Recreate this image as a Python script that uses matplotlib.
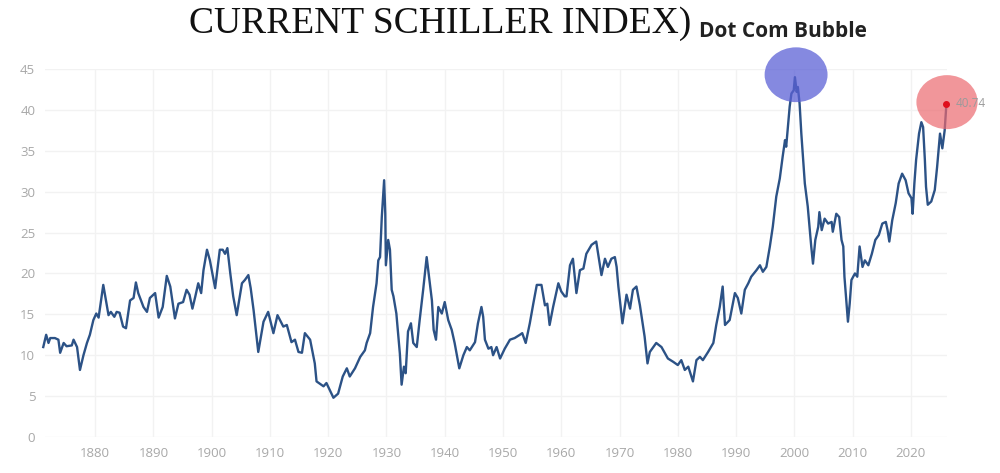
import matplotlib
matplotlib.use('Agg')
import matplotlib.pyplot as plt
from matplotlib.patches import Ellipse

# Shiller CAPE readings (year, value)
years = [1871.1, 1871.6, 1872.0, 1872.3, 1873.1, 1873.7, 1874.0, 1874.6, 1875.1, 1876.0,
         1876.3, 1876.9, 1877.4, 1878.0, 1878.6, 1879.1, 1879.7, 1880.2, 1880.6, 1881.4,
         1882.3, 1882.7, 1883.3, 1883.7, 1884.2, 1884.8, 1885.3, 1886.0, 1886.6, 1887.0,
         1887.4, 1888.3, 1888.9, 1889.4, 1890.3, 1890.9, 1891.6, 1892.3, 1892.9, 1893.7,
         1894.3, 1895.1, 1895.7, 1896.2, 1896.7, 1897.2, 1897.7, 1898.2, 1898.6, 1899.2,
         1899.7, 1900.6, 1901.4, 1901.9, 1902.3, 1902.7, 1903.2, 1903.7, 1904.3, 1905.2,
         1905.7, 1906.3, 1906.7, 1907.2, 1908.0, 1908.9, 1909.7, 1910.6, 1911.3, 1912.3,
         1912.9, 1913.7, 1914.3, 1914.9, 1915.5, 1916.0, 1916.9, 1917.7, 1918.0, 1919.2,
         1919.7, 1920.9, 1921.7, 1922.5, 1923.2, 1923.7, 1924.6, 1925.5, 1926.3, 1926.6,
         1927.2, 1927.7, 1928.3, 1928.6, 1928.9, 1929.2, 1929.6, 1929.8, 1929.9, 1930.3,
         1930.6, 1930.9, 1931.2, 1931.7, 1932.3, 1932.6, 1933.0, 1933.3, 1933.7, 1934.2,
         1934.6, 1935.2, 1935.7, 1936.3, 1936.9, 1937.3, 1937.8, 1938.1, 1938.5, 1938.9,
         1939.5, 1940.0, 1940.6, 1941.2, 1941.7, 1942.5, 1943.2, 1943.8, 1944.3, 1945.2,
         1945.7, 1946.3, 1946.6, 1946.9, 1947.5, 1948.0, 1948.3, 1948.9, 1949.5, 1950.3,
         1951.2, 1952.0, 1952.9, 1953.3, 1953.9, 1954.6, 1955.2, 1955.8, 1956.6, 1957.2,
         1957.6, 1958.0, 1958.6, 1959.5, 1960.0, 1960.6, 1960.9, 1961.5, 1962.0, 1962.6,
         1963.2, 1963.8, 1964.3, 1965.2, 1966.0, 1966.6, 1966.9, 1967.5, 1968.0, 1968.6,
         1969.2, 1969.5, 1969.8, 1970.5, 1971.2, 1971.8, 1972.3, 1972.9, 1973.5, 1974.3,
         1974.8, 1975.2, 1976.3, 1977.2, 1978.3, 1979.2, 1980.0, 1980.6, 1981.2, 1981.8,
         1982.6, 1983.2, 1983.8, 1984.3, 1985.2, 1986.1, 1986.6, 1987.2, 1987.7, 1988.1,
         1988.9, 1989.8, 1990.3, 1990.9, 1991.5, 1992.1, 1992.6, 1993.5, 1994.1, 1994.6,
         1995.2, 1995.8, 1996.3, 1996.9, 1997.5, 1998.0, 1998.4, 1998.6, 1998.9, 1999.2,
         1999.5, 1999.9, 2000.1, 2000.4, 2000.6, 2000.9, 2001.2, 2001.8, 2002.3, 2002.6,
         2002.9, 2003.2, 2003.6, 2004.1, 2004.3, 2004.7, 2005.2, 2005.8, 2006.4, 2006.6,
         2007.2, 2007.7, 2008.1, 2008.4, 2008.6, 2009.2, 2009.5, 2009.8, 2010.4, 2010.8,
         2011.2, 2011.7, 2012.1, 2012.7, 2013.3, 2013.9, 2014.5, 2015.1, 2015.7, 2016.0,
         2016.3, 2016.8, 2017.4, 2017.9, 2018.5, 2019.1, 2019.6, 2020.1, 2020.3, 2020.6,
         2020.9, 2021.4, 2021.8, 2022.1, 2022.4, 2022.6, 2022.9, 2023.5, 2024.1, 2024.5,
         2025.0, 2025.4, 2025.8, 2026.1]
cape = [11.0, 12.5, 11.5, 12.1, 12.1, 11.9, 10.3, 11.5, 11.1, 11.2,
        11.9, 11.0, 8.2, 10.0, 11.5, 12.5, 14.3, 15.1, 14.6, 18.6,
        14.9, 15.3, 14.7, 15.3, 15.2, 13.5, 13.3, 16.7, 17.0, 18.9,
        17.6, 15.9, 15.3, 17.0, 17.6, 14.6, 15.9, 19.7, 18.4, 14.5,
        16.3, 16.5, 18.0, 17.4, 15.7, 17.2, 18.8, 17.6, 20.4, 22.9,
        21.6, 18.2, 22.9, 22.9, 22.4, 23.1, 20.0, 17.2, 14.9, 18.8,
        19.2, 19.8, 18.2, 15.5, 10.4, 14.1, 15.3, 12.7, 14.9, 13.5,
        13.7, 11.6, 11.9, 10.4, 10.3, 12.7, 11.9, 9.0, 6.8, 6.2,
        6.6, 4.8, 5.3, 7.4, 8.4, 7.4, 8.4, 9.8, 10.6, 11.5,
        12.7, 15.9, 18.8, 21.6, 22.0, 26.9, 31.4, 27.3, 21.0, 24.1,
        22.9, 18.0, 17.2, 15.1, 10.2, 6.4, 8.6, 7.8, 12.9, 13.9,
        11.5, 11.0, 14.3, 18.0, 22.0, 19.6, 16.7, 13.1, 11.9, 15.9,
        15.1, 16.5, 14.3, 13.1, 11.5, 8.4, 10.0, 11.0, 10.6, 11.6,
        13.9, 15.9, 14.7, 11.9, 10.8, 11.0, 10.0, 11.0, 9.6, 10.8,
        11.9, 12.1, 12.5, 12.7, 11.5, 13.9, 16.3, 18.6, 18.6, 16.1,
        16.3, 13.7, 15.9, 18.8, 17.8, 17.2, 17.2, 21.0, 21.8, 17.6,
        20.4, 20.6, 22.4, 23.5, 23.9, 21.2, 19.8, 21.8, 20.8, 21.8,
        22.0, 20.8, 18.4, 13.9, 17.4, 15.7, 18.0, 18.4, 16.1, 12.3,
        9.0, 10.4, 11.5, 11.0, 9.6, 9.2, 8.8, 9.4, 8.2, 8.6,
        6.8, 9.4, 9.8, 9.4, 10.4, 11.5, 13.7, 15.9, 18.4, 13.7,
        14.3, 17.6, 17.0, 15.1, 18.0, 18.8, 19.6, 20.4, 21.0, 20.2,
        20.8, 23.3, 25.7, 29.4, 31.6, 34.3, 36.3, 35.5, 37.9, 40.4,
        42.0, 42.4, 44.0, 42.2, 42.8, 40.8, 37.1, 31.0, 28.2, 25.7,
        23.3, 21.2, 24.1, 25.7, 27.5, 25.3, 26.7, 26.1, 26.3, 25.1,
        27.3, 26.9, 24.1, 23.3, 19.6, 14.1, 16.3, 19.2, 20.0, 19.6,
        23.3, 20.8, 21.6, 21.0, 22.4, 24.1, 24.7, 26.1, 26.3, 25.3,
        23.9, 26.5, 28.6, 31.0, 32.2, 31.4, 29.8, 29.2, 27.3, 31.0,
        33.9, 37.1, 38.5, 37.9, 33.9, 30.6, 28.4, 28.8, 30.2, 33.0,
        37.1, 35.3, 37.5, 40.74]

x_ticks = [1880, 1890, 1900, 1910, 1920, 1930, 1940, 1950, 1960, 1970, 1980, 1990, 2000, 2010, 2020]
y_ticks = [0, 5, 10, 15, 20, 25, 30, 35, 40, 45]

bubble_center = (2000.3, 44.3)
current_center = (2026.2, 40.95)

fig = plt.figure(figsize=(10, 4.73), dpi=100)
ax = fig.add_axes([0.045, 0.0761, 0.902, 0.778])

ax.plot(years, cape, color='#2c5286', linewidth=1.7, clip_on=False, zorder=3)

ax.set_xlim(1871.4, 2026.2)
ax.set_ylim(0, 45)
ax.set_xticks(x_ticks)
ax.set_yticks(y_ticks)
ax.grid(True, color='#f2f2f2', linewidth=1.0)
ax.set_axisbelow(True)
for s in ax.spines.values():
    s.set_visible(False)
ax.tick_params(length=0, labelsize=9.5, colors='#a8a8a8', pad=7)
for lbl in ax.get_xticklabels() + ax.get_yticklabels():
    lbl.set_family('Open Sans')

# highlight circles
ax.add_patch(Ellipse(bubble_center, 10.8, 6.7, color='#5c61d6', alpha=0.75,
                     clip_on=False, zorder=4, linewidth=0))
ax.add_patch(Ellipse(current_center, 10.5, 6.6, color='#ec6a70', alpha=0.7,
                     clip_on=False, zorder=4, linewidth=0))
ax.plot([years[-1]], [cape[-1]], 'o', color='#e0101e', markersize=4, clip_on=False, zorder=5)
ax.text(years[-1] + 1.6, cape[-1], '%.2f' % cape[-1], fontsize=8.5, color='#9a9a9a',
        va='center', ha='left', family='Open Sans', zorder=6)

fig.text(0.44, 0.930, 'CURRENT SCHILLER INDEX)', family='Liberation Serif', fontsize=27,
         ha='center', va='baseline', color='#111111')
fig.text(0.699, 0.922, 'Dot Com Bubble', family='Open Sans', fontweight='bold', fontsize=15,
         ha='left', va='baseline', color='#222222')

fig.savefig('out.png', dpi=100)
